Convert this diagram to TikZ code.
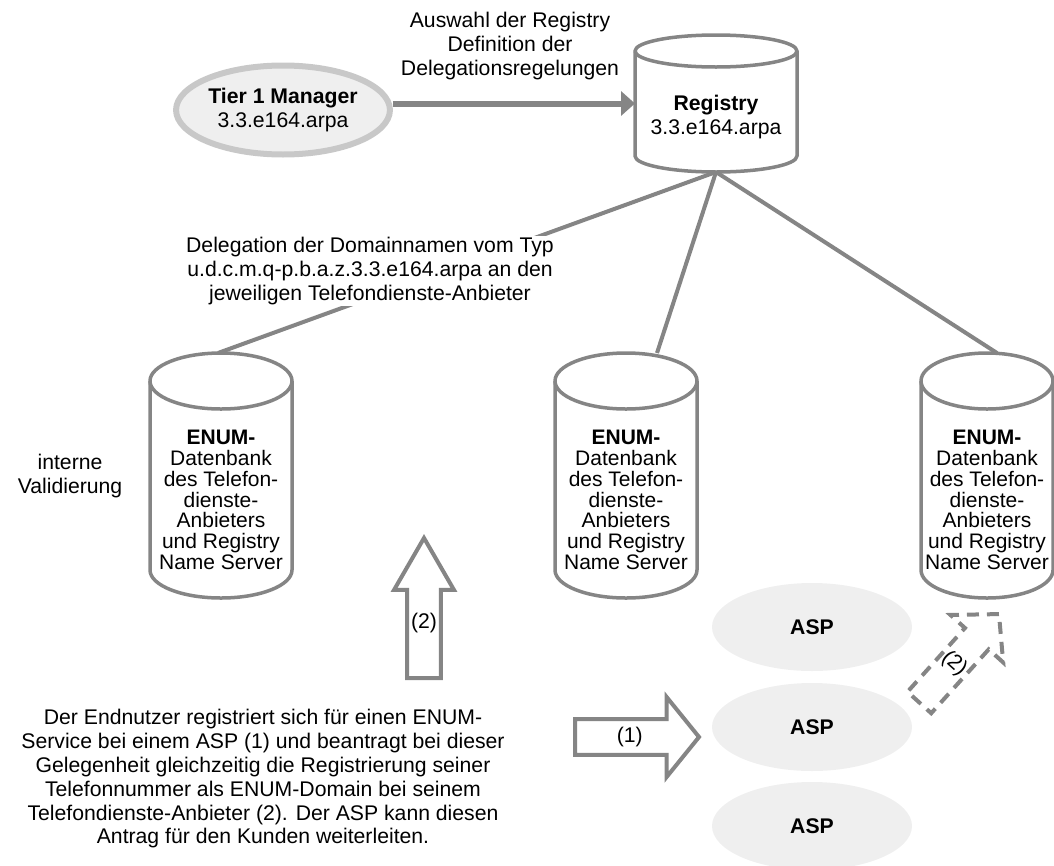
\documentclass[tikz,border=0pt]{standalone}
\usepackage{fontspec}
\setmainfont{Liberation Sans}
\usetikzlibrary{shapes.geometric,shapes.arrows,arrows.meta}
\definecolor{strokegrey}{HTML}{858585}
\definecolor{ringgrey}{HTML}{C8C8C8}
\definecolor{softgrey}{HTML}{EFEFEF}
\newcommand{\bodyfont}{\fontsize{21.2}{23.8}\selectfont}
\newcommand{\cylfont}{\fontsize{21}{20.8}\selectfont}
% drum outline round a named box: name, x radius, y radius
\newcommand{\drumoutline}[3]{%
  \draw[druminedecorate] ([yshift=-#3]#1.north west) -- ([yshift=#3]#1.south west)
    arc[start angle=180,end angle=360,x radius=#2,y radius=#3]
    -- ([yshift=-#3]#1.north east)
    arc[start angle=0,end angle=180,x radius=#2,y radius=#3] -- cycle;
  \draw[druminedecorate,fill=none] ([yshift=-#3]#1.north east)
    arc[start angle=0,end angle=-180,x radius=#2,y radius=#3];
}
\begin{document}
\begin{tikzpicture}
[every node/.style={font=\bodyfont,align=center,inner sep=1pt},
  tierdecorate/.style={shape=ellipse,draw=ringgrey,line width=6pt,fill=softgrey,
    minimum width=211pt,minimum height=89pt},
  drumbox/.style={shape=rectangle,inner sep=0pt,outer sep=0pt},
  druminedecorate/.style={draw=strokegrey,line width=3.5pt,fill=white,line join=round},
  cyltext/.style={font=\cylfont},
  aspdecorate/.style={shape=ellipse,fill=softgrey,minimum width=200pt,
    minimum height=88pt,font=\bodyfont\bfseries},
  linedecorate/.style={-,draw=strokegrey,line width=4pt},
  arrowdecorate/.style={draw=strokegrey,line width=6pt,
    -{Triangle[length=14pt,width=24pt]}},
  blockarrow/.style={shape=single arrow,draw=strokegrey,line width=4pt,
    fill=white,single arrow head indent=0pt},
  dashedarrow/.style={blockarrow,dash pattern=on 12pt off 8pt}]
\useasboundingbox (0pt,0pt) rectangle (1054pt,-865pt);
%% manager and registry
\node (tier) at (283pt,-110pt) [tierdecorate] {\textbf{Tier 1 Manager}\\3.3.e164.arpa};
\node (registry) at (716pt,-103.5pt) [drumbox,minimum width=162pt,minimum height=137pt] {};
\drumoutline{registry}{81pt}{16pt}
\node (registrytext) at (716pt,-117pt) {\textbf{Registry}\\3.3.e164.arpa};
\node (choice) at (510pt,-46pt) {Auswahl der Registry\\Definition der\\Delegationsregelungen};
\draw[arrowdecorate] (tier.east |- registry.west) -- (registry.west);
%% name servers
\foreach \nodename/\x/\w in {enumleft/221/142, enummid/626/142, enumright/987/132}
{
  \node (\nodename) at (\x pt,-475.5pt) [drumbox,minimum width=\w pt,minimum height=245pt] {};
  \drumoutline{\nodename}{0.5*\w pt}{28pt}
  \node (\nodename text) at (\x pt,-500pt) [cyltext] {\textbf{ENUM-}\\Datenbank\\des Telefon-\\dienste-\\Anbieters\\und Registry\\Name Server};
}
%% delegation lines
\path
\foreach \endnode/\shift in {enumleft/-3, enummid/31, enumright/10} {
  (registry.south) edge[linedecorate] ([xshift=\shift pt]\endnode.north)
};
\node (delegation) at (370pt,-271pt) [fill=white] {Delegation der Domainnamen vom Typ\\u.d.c.m.q-p.b.a.z.3.3.e164.arpa an den\\jeweiligen Telefondienste-Anbieter};
\node (validation) at (70pt,-476pt) {interne\\Validierung};
%% service providers
\foreach \nodename/\y in {asptop/627, aspmid/727, aspbottom/826}
{
  \node (\nodename) at (812pt,-\y pt) [aspdecorate] {ASP};
}
%% requests
\node (uparrow) at (424pt,-680pt) [blockarrow,anchor=tail,shape border rotate=90,
  minimum height=140pt,minimum width=60pt,single arrow head extend=12.5pt,
  single arrow tip angle=60] {(2)};
\node (rightarrow) at (573pt,-737pt) [blockarrow,anchor=tail,
  minimum height=124pt,minimum width=80pt,single arrow head extend=16pt,
  single arrow tip angle=102] {(1)};
\node (dasharrow) at (918pt,-704pt) [dashedarrow,anchor=tail,shape border rotate=90,
  rotate=-42,minimum height=119pt,minimum width=71pt,
  single arrow head extend=19.5pt,single arrow tip angle=94] {(2)};
\node (userstory) at (263pt,-779pt) {Der Endnutzer registriert sich für einen ENUM-\\Service bei einem ASP (1) und beantragt bei dieser\\Gelegenheit gleichzeitig die Registrierung seiner\\Telefonnummer als ENUM-Domain bei seinem\\Telefondienste-Anbieter (2). Der ASP kann diesen\\Antrag für den Kunden weiterleiten.};
\end{tikzpicture}
\end{document}
